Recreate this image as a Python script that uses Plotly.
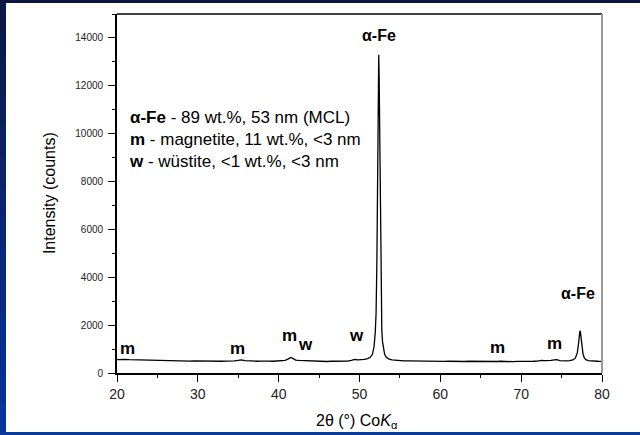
import plotly.graph_objects as go

# ---- data ----
two_theta = [20.0, 20.5, 21.0, 21.5, 22.0, 22.5, 23.0, 23.5, 24.0, 24.5, 25.0, 25.5, 26.0, 26.5, 27.0,
             27.5, 28.0, 28.5, 29.0, 29.5, 30.0, 30.5, 31.0, 31.5, 32.0, 32.5, 33.0, 33.5, 34.0, 34.5,
             35.0, 35.4, 35.8, 36.3, 36.8, 37.3, 37.8, 38.3, 38.8, 39.3, 39.8, 40.3, 40.8, 41.2, 41.5,
             41.8, 42.1, 42.5, 43.0, 43.5, 44.0, 44.5, 45.0, 45.5, 46.0, 46.5, 47.0, 47.5, 48.0, 48.5,
             49.0, 49.4, 49.8, 50.2, 50.6, 51.0, 51.3, 51.6, 51.8, 51.95, 52.05, 52.15, 52.22, 52.28,
             52.34, 52.38, 52.43, 52.48, 52.54, 52.6, 52.68, 52.76, 52.85, 52.95, 53.1, 53.3, 53.6,
             54.0, 54.5, 55.0, 55.5, 56.0, 56.5, 57.0, 57.5, 58.0, 58.5, 59.0, 59.5, 60.0, 60.5, 61.0,
             61.5, 62.0, 62.5, 63.0, 63.5, 64.0, 64.5, 65.0, 65.5, 66.0, 66.5, 67.0, 67.5, 68.0, 68.5,
             69.0, 69.5, 70.0, 70.5, 71.0, 71.5, 72.0, 72.5, 72.9, 73.3, 73.7, 74.1, 74.4, 74.8, 75.2,
             75.6, 76.0, 76.4, 76.7, 76.95, 77.1, 77.2, 77.27, 77.33, 77.42, 77.52, 77.65, 77.8, 78.0,
             78.3, 78.6, 79.0, 79.5, 80.0]
intensity = [560, 575, 565, 555, 550, 540, 545, 530, 535, 525, 520, 515, 525, 510, 505,
             515, 500, 510, 495, 505, 500, 490, 500, 495, 485, 495, 490, 500, 495, 505,
             530, 545, 520, 505, 500, 490, 500, 485, 495, 490, 500, 505, 530, 590, 650,
             600, 540, 525, 515, 505, 500, 490, 485, 495, 480, 490, 485, 495, 490, 500,
             530, 565, 550, 555, 570, 600, 650, 780, 1100, 1700, 2500, 4600, 7500, 11000,
             13000, 13300, 12400, 10500, 7000, 4500, 2700, 1800, 1300, 1000, 800, 660, 590,
             550, 530, 520, 510, 505, 500, 495, 500, 490, 495, 485, 495, 490, 485, 490,
             480, 490, 485, 480, 490, 485, 480, 485, 480, 490, 485, 480, 490, 480, 485,
             475, 485, 480, 485, 480, 490, 500, 530, 520, 510, 525, 545, 555, 520, 505,
             510, 520, 550, 620, 850, 1250, 1600, 1760, 1720, 1450, 1100, 800, 640, 560,
             520, 505, 495, 490, 485]

# phase labels: (text, x, y)
peak_labels = ["α-Fe", "α-Fe", "m", "m", "m", "w", "w", "m", "m"]
label_x = [52.35, 76.98, 21.26, 34.9, 41.35, 43.3, 49.65, 67.03, 74.1]
label_y = [14120, 3340, 1040, 1040, 1560, 1200, 1560, 1060, 1220]
label_size = [16, 16, 17, 17, 17, 17, 17, 17, 17]

x_ticks = [20, 30, 40, 50, 60, 70, 80]
y_ticks = [0, 2000, 4000, 6000, 8000, 10000, 12000, 14000]

legend_lines = ["<b>α-Fe</b> - 89 wt.%, 53 nm (MCL)",
                "<b>m</b> - magnetite, 11 wt.%, &lt;3 nm",
                "<b>w</b> - wüstite, &lt;1 wt.%, &lt;3 nm"]

FONT = "Liberation Sans, Arial, sans-serif"

fig = go.Figure()
fig.add_trace(go.Scatter(x=two_theta, y=intensity, mode="lines",
                         line=dict(color="black", width=1.3), showlegend=False,
                         hoverinfo="skip"))

annotations = []
for t, x, y, s in zip(peak_labels, label_x, label_y, label_size):
    annotations.append(dict(x=x, y=y, xref="x", yref="y", text=f"<b>{t}</b>",
                            showarrow=False, xanchor="center", yanchor="middle",
                            font=dict(family=FONT, size=s, color="black")))

annotations.append(dict(x=21.24, y=9750, xref="x", yref="y", text="<br>".join(legend_lines),
                        showarrow=False, xanchor="left", yanchor="middle", align="left",
                        font=dict(family=FONT, size=17, color="black")))

# axis titles
annotations.append(dict(x=-0.139, y=0.5, xref="paper", yref="paper",
                        text="Intensity (counts)", textangle=-90, showarrow=False,
                        xanchor="center", yanchor="middle",
                        font=dict(family=FONT, size=16, color="black")))
annotations.append(dict(x=0.495, y=-0.134, xref="paper", yref="paper",
                        text="2θ (°) Co<i>K</i><sub>α</sub>", showarrow=False,
                        xanchor="center", yanchor="middle",
                        font=dict(family=FONT, size=16, color="black")))

# slide background stripes (blue) and plot frame
L, T, R, B = 117, 14, 38, 62
W, H = 640, 435
pw, ph = W - L - R, H - T - B


def px(xp):
    return (xp - L) / pw


def py(yp):
    return (H - B - yp) / ph


shapes = []
n = 14
top_c = (12, 24, 70)
bot_c = (8, 52, 155)
for i in range(n):
    f = i / (n - 1)
    c = tuple(int(top_c[k] + (bot_c[k] - top_c[k]) * f) for k in range(3))
    shapes.append(dict(type="rect", xref="paper", yref="paper",
                       x0=px(0), x1=px(6), y0=py(H * i / n), y1=py(H * (i + 1) / n + 1),
                       fillcolor=f"rgb{c}", line=dict(width=0), layer="below"))
shapes.append(dict(type="rect", xref="paper", yref="paper", x0=px(0), x1=px(W),
                   y0=py(0), y1=py(3), fillcolor="rgb(12,22,62)", line=dict(width=0)))
shapes.append(dict(type="rect", xref="paper", yref="paper", x0=px(0), x1=px(W),
                   y0=py(432), y1=py(H), fillcolor="rgb(10,58,160)", line=dict(width=0)))
shapes.append(dict(type="line", xref="paper", yref="paper", x0=0, x1=1, y0=1, y1=1,
                   line=dict(color="black", width=1.6)))
shapes.append(dict(type="line", xref="paper", yref="paper", x0=1, x1=1, y0=0, y1=1,
                   line=dict(color="#9a9a9a", width=2)))

fig.update_layout(
    width=W, height=H,
    margin=dict(l=L, r=R, t=T, b=B, pad=0),
    paper_bgcolor="white", plot_bgcolor="white",
    annotations=annotations, shapes=shapes,
    xaxis=dict(range=[20, 80], tickvals=x_ticks, ticktext=[str(v) for v in x_ticks],
               showgrid=False, zeroline=False, showline=True, linecolor="black", linewidth=1.8,
               ticks="outside", ticklen=7, tickwidth=1.2, tickcolor="black",
               minor=dict(dtick=5, tick0=20, ticks="outside", ticklen=3, tickcolor="black", tickwidth=1),
               tickfont=dict(family=FONT, size=14, color="#222")),
    yaxis=dict(range=[0, 15000], tickvals=y_ticks, ticktext=[str(v) for v in y_ticks],
               showgrid=False, zeroline=False, showline=True, linecolor="black", linewidth=1.8,
               ticks="outside", ticklen=7, tickwidth=1.2, tickcolor="black",
               ticklabelstandoff=3,
               minor=dict(dtick=1000, tick0=0, ticks="outside", ticklen=3, tickcolor="black", tickwidth=1),
               tickfont=dict(family=FONT, size=10, color="#222")),
)

fig.write_html("out.html")
